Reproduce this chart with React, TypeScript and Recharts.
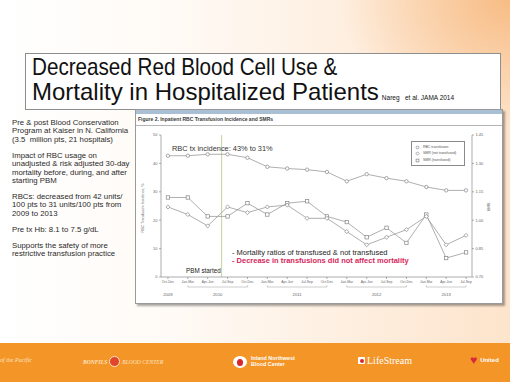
import React from "react";
import { LineChart, Line, XAxis, YAxis, ReferenceLine, Legend } from "recharts";

const quarters = [
  "Oct-Dec",
  "Jan-Mar", "Apr-Jun", "Jul-Sep", "Oct-Dec",
  "Jan-Mar", "Apr-Jun", "Jul-Sep", "Oct-Dec",
  "Jan-Mar", "Apr-Jun", "Jul-Sep", "Oct-Dec",
  "Jan-Mar", "Apr-Jun", "Jul-Sep",
];
const years = [
  "2009",
  "2010", "2010", "2010", "2010",
  "2011", "2011", "2011", "2011",
  "2012", "2012", "2012", "2012",
  "2013", "2013", "2013",
];
// RBC transfusion incidence, % (left axis)
const rbcIncidence = [42.7, 42.7, 43.2, 43.2, 42.0, 38.8, 38.2, 37.8, 37.0, 33.7, 36.2, 34.8, 33.7, 31.7, 30.5, 30.5];
// standardized mortality ratios (right axis)
const smrTransfused = [1.12, 1.12, 1.02, 1.02, 1.09, 1.03, 1.09, 1.1, 1.02, 0.99, 0.91, 0.96, 0.88, 1.03, 0.8, 0.83];
const smrNotTransfused = [1.07, 1.03, 0.97, 1.07, 1.04, 1.07, 1.08, 1.01, 1.01, 0.94, 0.87, 0.91, 0.95, 1.02, 0.87, 0.92];
const pbmStart = 2.7;
const leftTicks = [0, 10, 20, 30, 40, 50];
const rightTicks = [0.7, 0.85, 1.0, 1.15, 1.3, 1.45];

const bullets = [
  ["Pre & post Blood Conservation", "Program at Kaiser in N. California", "(3.5  million pts, 21 hospitals)"],
  ["Impact of RBC usage on", "unadjusted & risk adjusted 30-day", "mortality before, during, and after", "starting PBM"],
  ["RBCs: decreased from 42 units/", "100 pts to 31 units/100 pts from", "2009 to 2013"],
  ["Pre tx Hb: 8.1 to 7.5 g/dL"],
  ["Supports the safety of more", "restrictive transfusion practice"],
];

const data = quarters.map((q, i) => ({
  i,
  quarter: q,
  rbc: rbcIncidence[i],
  smrT: smrTransfused[i],
  smrN: smrNotTransfused[i],
}));

const X_DOMAIN: [number, number] = [-0.35, 15.3];
const PLOT_W = 311;
const STEP = PLOT_W / (X_DOMAIN[1] - X_DOMAIN[0]);
const SANS = "'Liberation Sans', Arial, Helvetica, sans-serif";
const SERIF = "'Liberation Serif', 'Times New Roman', serif";
const LINE = "#9b9b9b";

function Marker({ shape, cx, cy, r = 1.7 }: { shape: string; cx: number; cy: number; r?: number }) {
  const common = { fill: "#fff", stroke: "#858585", strokeWidth: 0.7 };
  if (shape === "square") return <rect x={cx - r} y={cy - r} width={r * 2} height={r * 2} {...common} />;
  if (shape === "diamond")
    return <polygon points={`${cx},${cy - r * 1.2} ${cx + r * 1.2},${cy} ${cx},${cy + r * 1.2} ${cx - r * 1.2},${cy}`} {...common} />;
  return <circle cx={cx} cy={cy} r={r} {...common} />;
}

const makeDot = (shape: string) => (p: any) =>
  p.cx == null ? <g key={`e-${p.index}`} /> : <Marker key={`${shape}-${p.index}`} shape={shape} cx={p.cx} cy={p.cy} />;

const shapeFor: Record<string, string> = { rbc: "circle", smrT: "square", smrN: "diamond" };

function QuarterTick({ x, y, payload }: any) {
  const i = payload.value as number;
  const year = years[i];
  const first = years.indexOf(year);
  const last = years.lastIndexOf(year);
  const multi = last > first;
  return (
    <g fontFamily={SANS} fill="#666">
      <text x={x} y={y + 2.5} textAnchor="middle" fontSize={3.4}>
        {quarters[i]}
      </text>
      {multi && i < last && <line x1={x} x2={x + STEP} y1={y + 7} y2={y + 7} stroke="#999" strokeWidth={0.5} />}
      {multi && (i === first || i === last) && <line x1={x} x2={x} y1={y + 7} y2={y + 5.3} stroke="#999" strokeWidth={0.5} />}
      {i === first && (
        <text x={x + ((last - first) / 2) * STEP} y={y + 16} textAnchor="middle" fontSize={4.2}>
          {year}
        </text>
      )}
    </g>
  );
}

function LegendBox({ payload }: any) {
  return (
    <div
      style={{
        border: "0.6px solid #8a8a8a",
        background: "#fff",
        padding: "2px 3px",
        fontFamily: SANS,
        fontSize: 3.5,
        lineHeight: "6.4px",
        color: "#555",
      }}
    >
      {(payload || []).map((item: any) => (
        <div key={item.dataKey} style={{ display: "flex", alignItems: "center", whiteSpace: "nowrap" }}>
          <svg width={5} height={5} style={{ marginRight: 3 }}>
            <Marker shape={shapeFor[item.dataKey] || "circle"} cx={2.5} cy={2.5} r={1.4} />
          </svg>
          {item.value}
        </div>
      ))}
    </div>
  );
}

function Abs({ left, top, children, style }: any) {
  return <div style={{ position: "absolute", left, top, whiteSpace: "nowrap", ...style }}>{children}</div>;
}

export default function App() {
  return (
    <div
      style={{
        position: "absolute",
        left: 0,
        top: 0,
        width: 510,
        height: 382,
        overflow: "hidden",
        fontFamily: SANS,
        background:
          "radial-gradient(ellipse 170px 130px at 100% 0%, rgba(247,184,125,0.9), rgba(247,184,125,0)), linear-gradient(to right, #ffffff 0%, #fffaf5 35%, #fde4cc 100%)",
      }}
    >
      {/* Title */}
      <div
        style={{
          position: "absolute",
          left: 25,
          top: 53,
          width: 474,
          height: 55,
          border: "1px solid #8e8e8e",
          background: "#fff",
        }}
      />
      <Abs
        left={32}
        top={54}
        style={{ fontSize: 24, lineHeight: "25px", color: "#111", transform: "scaleX(0.86)", transformOrigin: "0 50%" }}
      >
        Decreased Red Blood Cell Use &amp;
      </Abs>
      <Abs left={32} top={79} style={{ fontSize: 24, lineHeight: "25px", color: "#111" }}>
        Mortality in Hospitalized Patients
        <span style={{ fontSize: 6.5, marginLeft: 3 }}>Nareg&nbsp;&nbsp; et al. JAMA 2014</span>
      </Abs>

      {/* Left notes */}
      <div style={{ position: "absolute", left: 12, top: 119, fontSize: 7.8, lineHeight: "8.4px", color: "#2a2a2a" }}>
        {bullets.map((para, k) => (
          <div key={k} style={{ marginBottom: 7.6 }}>
            {para.map((ln) => (
              <div key={ln} style={{ whiteSpace: "pre" }}>
                {ln}
              </div>
            ))}
          </div>
        ))}
      </div>

      {/* Figure frame */}
      <div
        style={{
          position: "absolute",
          left: 135,
          top: 109,
          width: 366,
          height: 193,
          border: "1px solid #9a9a9a",
          background: "#fff",
          boxShadow: "2px 2px 2px rgba(0,0,0,0.35)",
        }}
      >
        <div style={{ height: 4, background: "#a9bfd3" }} />
        <div
          style={{
            height: 11,
            borderBottom: "0.8px solid #b5b5b5",
            fontSize: 5,
            lineHeight: "11px",
            fontWeight: "bold",
            color: "#3a3a3a",
            paddingLeft: 2,
          }}
        >
          Figure 2. Inpatient RBC Transfusion Incidence and SMRs
        </div>
      </div>

      <div style={{ position: "absolute", left: 135, top: 126 }}>
        <LineChart width={367} height={177} data={data} margin={{ top: 9, right: 0, bottom: 0, left: 0 }}>
          <XAxis
            type="number"
            dataKey="i"
            domain={X_DOMAIN}
            ticks={quarters.map((_, i) => i)}
            interval={0}
            height={26}
            tick={<QuarterTick />}
            tickSize={2}
            tickMargin={1}
            stroke="#8a8a8a"
            strokeWidth={0.7}
          />
          <YAxis
            yAxisId="left"
            domain={[0, 50]}
            ticks={leftTicks}
            width={26}
            tickSize={2}
            tickMargin={1.5}
            stroke="#8a8a8a"
            strokeWidth={0.7}
            tick={{ fontSize: 4, fill: "#666", fontFamily: SANS }}
          />
          <YAxis
            yAxisId="right"
            orientation="right"
            domain={[0.7, 1.45]}
            ticks={rightTicks}
            width={30}
            tickSize={2}
            tickMargin={1.5}
            stroke="#8a8a8a"
            strokeWidth={0.7}
            tickFormatter={(v: number) => v.toFixed(2)}
            tick={{ fontSize: 4, fill: "#666", fontFamily: SANS }}
          />
          <ReferenceLine yAxisId="left" x={pbmStart} stroke="#c5d49a" strokeWidth={1} />
          <Legend
            layout="vertical"
            align="center"
            verticalAlign="middle"
            content={<LegendBox />}
            wrapperStyle={{ left: 276, top: 15, width: 54 }}
          />
          <Line
            yAxisId="left"
            dataKey="rbc"
            name="RBC transfusion"
            type="linear"
            stroke={LINE}
            strokeWidth={0.8}
            dot={makeDot("circle")}
            isAnimationActive={false}
          />
          <Line
            yAxisId="right"
            dataKey="smrT"
            name="SMR (transfused)"
            type="linear"
            stroke={LINE}
            strokeWidth={0.8}
            dot={makeDot("square")}
            isAnimationActive={false}
          />
          <Line
            yAxisId="right"
            dataKey="smrN"
            name="SMR (not transfused)"
            type="linear"
            stroke={LINE}
            strokeWidth={0.8}
            dot={makeDot("diamond")}
            isAnimationActive={false}
          />
        </LineChart>
      </div>

      {/* Axis titles */}
      <Abs left={143} top={208} style={{ fontSize: 3.6, color: "#666", transform: "translate(-50%,-50%) rotate(-90deg)" }}>
        RBC Transfusion Incidence, %
      </Abs>
      <Abs left={488} top={207} style={{ fontSize: 4, color: "#666", transform: "translate(-50%,-50%) rotate(90deg)" }}>
        SMR
      </Abs>

      {/* Annotations */}
      <Abs left={172} top={144.5} style={{ fontSize: 7.4, lineHeight: 1, color: "#333" }}>
        RBC tx incidence: 43% to 31%
      </Abs>
      <Abs left={232} top={249} style={{ fontSize: 7.5, lineHeight: 1, color: "#1e1e1e" }}>
        - Mortality ratios of transfused &amp; not transfused
      </Abs>
      <Abs left={232} top={257.3} style={{ fontSize: 7.5, lineHeight: 1, color: "#d81f5c", fontWeight: "bold" }}>
        - Decrease in transfusions did not affect mortality
      </Abs>
      <Abs left={186} top={268} style={{ fontSize: 6.3, lineHeight: 1, color: "#222" }}>
        PBM started
      </Abs>

      {/* Footer band */}
      <div style={{ position: "absolute", left: 0, top: 343, width: 510, height: 39, background: "#f39527" }}>
        <Abs left={0} top={14} style={{ fontFamily: SERIF, fontStyle: "italic", fontSize: 6, color: "#fde4c4" }}>
          of the Pacific
        </Abs>
        <Abs left={83} top={13} style={{ display: "flex", alignItems: "center", fontFamily: SERIF, fontStyle: "italic", fontSize: 5.6, color: "#fde4c4" }}>
          <span style={{ fontWeight: "bold" }}>BONFILS</span>
          <span
            style={{
              display: "inline-block",
              width: 9,
              height: 9,
              borderRadius: "50%",
              background: "#e2462a",
              border: "1.5px solid #fde4c4",
              margin: "0 2px",
            }}
          />
          <span>BLOOD CENTER</span>
        </Abs>
        <Abs left={233} top={13} style={{ display: "flex", alignItems: "center" }}>
          <span
            style={{
              display: "inline-block",
              width: 14,
              height: 12,
              borderRadius: "50%",
              background: "#fff",
              position: "relative",
              marginRight: 4,
            }}
          >
            <span
              style={{
                position: "absolute",
                left: 4,
                top: 3,
                width: 6,
                height: 7,
                borderRadius: "50%",
                background: "#d8262c",
              }}
            />
          </span>
          <span style={{ fontSize: 5.4, lineHeight: "5.6px", color: "#fff", fontWeight: "bold" }}>
            Inland Northwest
            <br />
            Blood Center
          </span>
        </Abs>
        <Abs left={358} top={12} style={{ display: "flex", alignItems: "center" }}>
          <span style={{ display: "inline-block", width: 7, height: 7, background: "#fff", borderRadius: 1, marginRight: 2, position: "relative" }}>
            <span style={{ position: "absolute", left: 1.5, top: 1.5, width: 4, height: 4, background: "#d8262c", borderRadius: "50%" }} />
          </span>
          <span style={{ fontFamily: SERIF, fontSize: 10, color: "#fff" }}>LifeStream</span>
        </Abs>
        <Abs left={470} top={11} style={{ display: "flex", alignItems: "center" }}>
          <span style={{ fontSize: 12, color: "#d9263f", lineHeight: 1, marginRight: 3 }}>♥</span>
          <span style={{ fontSize: 6, color: "#fff", fontWeight: "bold" }}>United</span>
        </Abs>
      </div>
    </div>
  );
}
